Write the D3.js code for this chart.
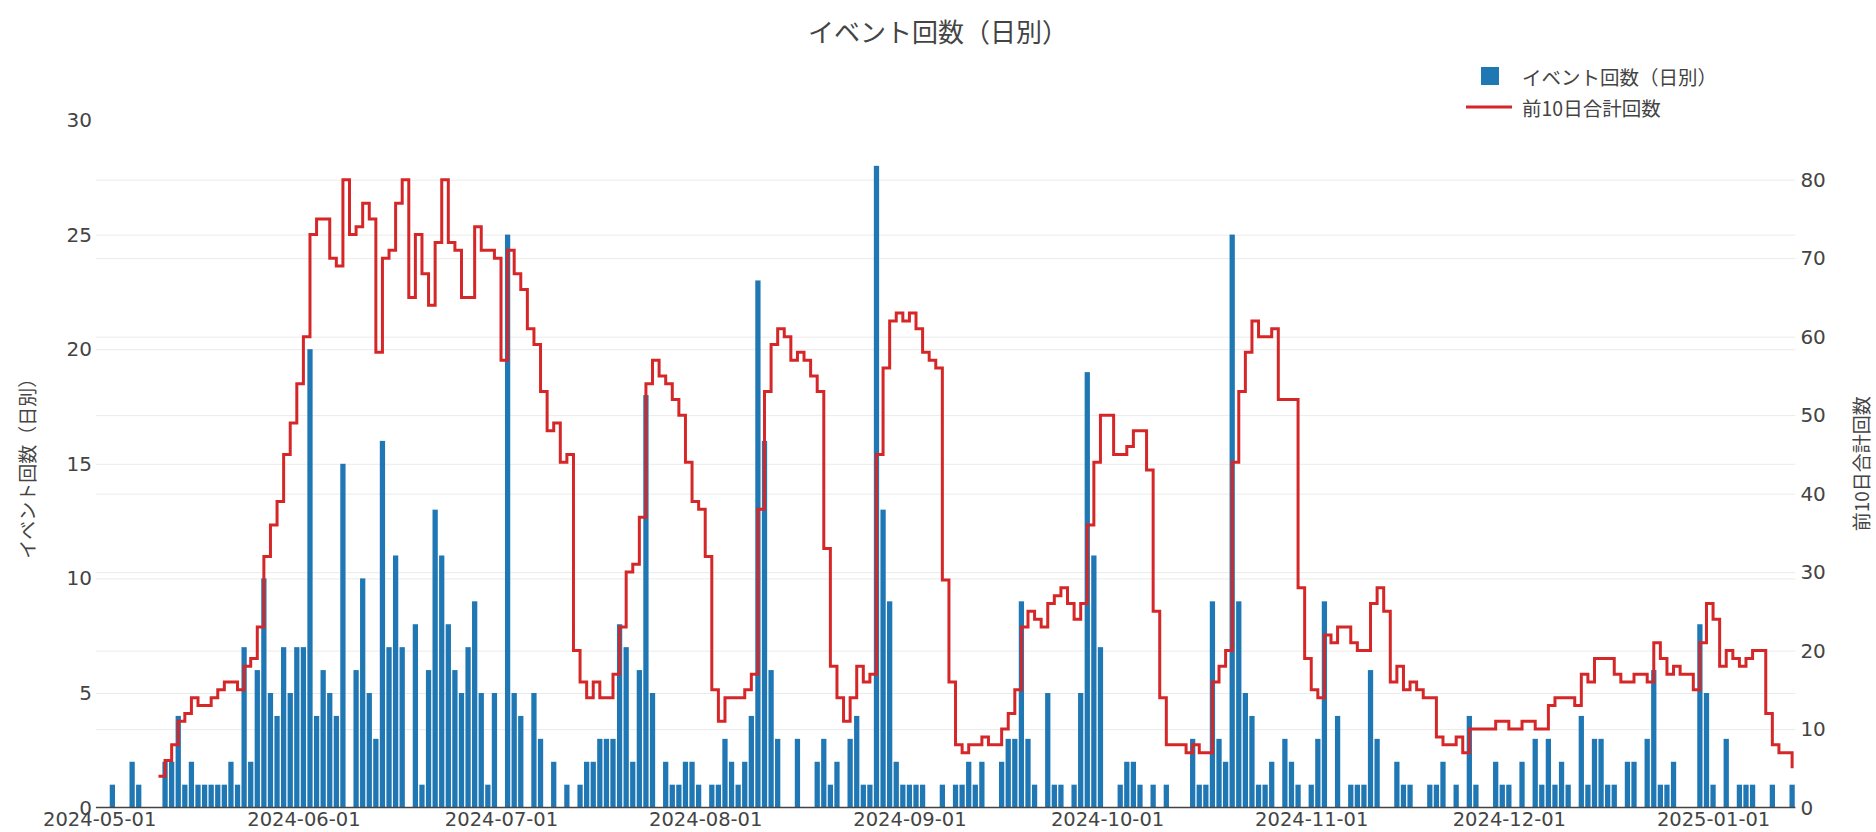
<!DOCTYPE html>
<html><head><meta charset="utf-8">
<script src="https://cdn.jsdelivr.net/npm/d3@7"></script>
<style>body{margin:0;background:#fff;} svg{display:block;}</style>
</head><body>
<svg id="chart" width="1876" height="832"></svg>
<script>
// ---- data ----
const startDate = "2024-05-01";
const dailyCounts = [
0,0,1,0,0,2,1,0,0,0,
2,2,4,1,2,1,1,1,1,1,
2,1,7,2,6,10,5,4,7,5,
7,7,20,4,6,5,4,15,0,6,
10,5,3,16,7,11,7,0,8,1,
6,13,11,8,6,5,7,9,5,1,
5,0,25,5,4,0,5,3,0,2,
0,1,0,1,2,2,3,3,3,8,
7,2,6,18,5,0,2,1,1,2,
2,1,0,1,1,3,2,1,2,4,
23,16,6,3,0,0,3,0,0,2,
3,1,2,0,3,4,1,1,28,13,
9,2,1,1,1,1,0,0,1,0,
1,1,2,1,2,0,0,2,3,3,
9,3,1,0,5,1,1,0,1,5,
19,11,7,0,0,1,2,2,1,0,
1,0,1,0,0,0,3,1,1,9,
3,2,25,9,5,4,1,1,2,0,
3,2,1,0,1,3,9,0,4,0,
1,1,1,6,3,0,0,2,1,1,
0,0,1,1,2,0,1,0,4,1,
0,0,2,1,1,0,2,0,3,1,
3,1,2,1,0,4,1,3,3,1,
1,0,2,2,0,3,6,1,1,2,
0,0,0,8,5,1,0,3,0,1,
1,1,0,0,1,0,0,1
];
const rolling10 = [
null,null,null,null,null,null,null,null,null,4,
6,8,11,12,14,13,13,14,15,16,
16,15,18,19,23,32,36,39,45,49,
54,60,73,75,75,70,69,80,73,74,
77,75,58,70,71,77,80,65,73,68,
64,72,80,72,71,65,65,74,71,71,
70,57,71,68,66,61,59,53,48,49,
44,45,20,16,14,16,14,14,17,23,
30,31,37,54,57,55,54,52,50,44,
39,38,32,15,11,14,14,14,15,17,
38,53,59,61,60,57,58,57,55,53,
33,18,14,11,14,18,16,17,45,56,
62,63,62,63,61,58,57,56,29,16,
8,7,8,8,9,8,8,10,12,15,
23,25,24,23,26,27,28,26,24,26,
36,44,50,50,45,45,46,48,48,43,
25,14,8,8,8,7,8,7,7,16,
18,20,44,53,58,62,60,60,61,52,
52,52,28,19,15,14,22,21,23,23,
21,20,20,26,28,25,16,18,15,16,
15,14,14,9,8,8,9,7,10,10,
10,10,11,11,10,10,11,11,10,10,
13,14,14,14,13,17,16,19,19,19,
17,16,16,17,17,16,21,19,17,18,
17,17,15,21,26,24,18,20,19,18,
19,20,20,12,8,7,7,5
];
const xTickLabels = ["2024-05-01","2024-06-01","2024-07-01","2024-08-01","2024-09-01","2024-10-01","2024-11-01","2024-12-01","2025-01-01"];
const leftTicks = [0,5,10,15,20,25,30];
const rightTicks = [0,10,20,30,40,50,60,70,80];
const chartTitle = "イベント回数（日別）";
const barSeriesName = "イベント回数（日別）";
const lineSeriesName = "前10日合計回数";
const leftAxisTitle = "イベント回数（日別）";
const rightAxisTitle = "前10日合計回数";

// ---- layout ----
const W = 1876, H = 832;
const P = {left: 95.9, right: 1795.4, top: 120, bottom: 807.6};
const TICK_FONT = "'DejaVu Sans', Verdana, sans-serif";
const CJK_FONT = "'Noto Sans CJK JP', 'Noto Sans', sans-serif";
const TXT = "#444";
const BLUE = "#1f77b4", RED = "#d62728";

const parse = d3.utcParse("%Y-%m-%d");
const start = parse(startDate);
const dates = dailyCounts.map((_, i) => d3.utcDay.offset(start, i));
const rows = dates.map((d, i) => ({date: d, count: dailyCounts[i], sum: rolling10[i]}));

const x = d3.scaleUtc()
  .domain([d3.utcHour.offset(dates[0], -12), d3.utcHour.offset(dates[dates.length - 1], 12)])
  .range([P.left, P.right]);
const yL = d3.scaleLinear().domain([0, 30]).range([P.bottom, P.top]);
const yR = d3.scaleLinear().domain([0, 87.6]).range([P.bottom, P.top]);
const dayW = x(dates[1]) - x(dates[0]);
const barW = dayW * 0.8;

const svg = d3.select("#chart");
svg.append("rect").attr("width", W).attr("height", H).attr("fill", "#fff");

// gridlines
const gLeftGrid = svg.append("g").attr("transform", `translate(${P.left},0)`)
  .call(d3.axisLeft(yL).tickValues(leftTicks.filter(v => v > 0 && v < 30)).tickSize(-(P.right - P.left)).tickFormat(""));
gLeftGrid.select(".domain").remove();
gLeftGrid.selectAll("line").attr("stroke", "#ebebeb").attr("stroke-width", 1);

const gRightGrid = svg.append("g").attr("transform", `translate(${P.right},0)`)
  .call(d3.axisRight(yR).tickValues(rightTicks.filter(v => v > 0)).tickSize(-(P.right - P.left)).tickFormat(""));
gRightGrid.select(".domain").remove();
gRightGrid.selectAll("line").attr("stroke", "#ebebeb").attr("stroke-width", 1);

// bars
svg.append("g").selectAll("rect").data(rows.filter(r => r.count > 0)).join("rect")
  .attr("x", d => x(d.date) - barW / 2)
  .attr("width", barW)
  .attr("y", d => yL(d.count))
  .attr("height", d => yL(0) - yL(d.count))
  .attr("fill", BLUE);

// zero line
svg.append("line").attr("x1", P.left).attr("x2", P.right)
  .attr("y1", yL(0)).attr("y2", yL(0)).attr("stroke", "#444").attr("stroke-width", 1.5);

// step line
const line = d3.line()
  .defined(d => d.sum !== null)
  .x(d => x(d.date))
  .y(d => yR(d.sum))
  .curve(d3.curveStepAfter);
svg.append("path").datum(rows).attr("d", line)
  .attr("fill", "none").attr("stroke", RED).attr("stroke-width", 3)
  .attr("stroke-linejoin", "miter");

// axes labels
const gL = svg.append("g").attr("transform", `translate(${P.left},0)`)
  .call(d3.axisLeft(yL).tickValues(leftTicks).tickSize(0).tickPadding(4));
gL.select(".domain").remove();
gL.selectAll("text").attr("font-family", TICK_FONT).attr("font-size", 20).attr("fill", TXT);

const gR = svg.append("g").attr("transform", `translate(${P.right},0)`)
  .call(d3.axisRight(yR).tickValues(rightTicks).tickSize(0).tickPadding(5));
gR.select(".domain").remove();
gR.selectAll("text").attr("font-family", TICK_FONT).attr("font-size", 20).attr("fill", TXT);

const gX = svg.append("g").attr("transform", `translate(0,${P.bottom})`)
  .call(d3.axisBottom(x).tickValues(xTickLabels.map(parse)).tickFormat(d3.utcFormat("%Y-%m-%d")).tickSize(0).tickPadding(5));
gX.select(".domain").remove();
gX.selectAll("text").attr("font-family", TICK_FONT).attr("font-size", 19.5).attr("fill", TXT);

// titles
svg.append("text").attr("x", W / 2).attr("y", 30).attr("text-anchor", "middle")
  .attr("dominant-baseline", "central")
  .attr("font-family", CJK_FONT).attr("font-size", 26).attr("fill", TXT).text(chartTitle);

const midY = (P.top + P.bottom) / 2;
svg.append("text").attr("transform", `translate(26,${midY}) rotate(-90)`)
  .attr("text-anchor", "middle").attr("dominant-baseline", "central")
  .attr("font-family", CJK_FONT).attr("font-size", 19).attr("fill", TXT).text(leftAxisTitle);
svg.append("text").attr("transform", `translate(1860,${midY}) rotate(-90)`)
  .attr("text-anchor", "middle").attr("dominant-baseline", "central")
  .attr("font-family", CJK_FONT).attr("font-size", 19).attr("fill", TXT).text(rightAxisTitle);

// legend
const lg = svg.append("g");
lg.append("rect").attr("x", 1481).attr("y", 67).attr("width", 18).attr("height", 18).attr("fill", BLUE);
lg.append("text").attr("x", 1522).attr("y", 76).attr("dominant-baseline", "central")
  .attr("font-family", CJK_FONT).attr("font-size", 19.5).attr("fill", TXT).text(barSeriesName);
lg.append("line").attr("x1", 1466).attr("x2", 1512).attr("y1", 107).attr("y2", 107)
  .attr("stroke", RED).attr("stroke-width", 3);
lg.append("text").attr("x", 1522).attr("y", 107).attr("dominant-baseline", "central")
  .attr("font-family", CJK_FONT).attr("font-size", 19.5).attr("fill", TXT).text(lineSeriesName);
</script>
</body></html>
